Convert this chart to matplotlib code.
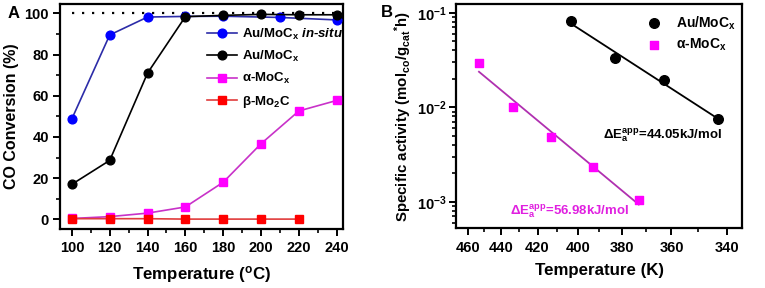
import numpy as np
import matplotlib
matplotlib.use('Agg')
import matplotlib.pyplot as plt
from matplotlib.ticker import FixedLocator, FuncFormatter, NullFormatter, MultipleLocator

plt.rcParams['font.family'] = ['Liberation Sans', 'DejaVu Sans']
plt.rcParams['font.weight'] = 'bold'
plt.rcParams['axes.labelweight'] = 'bold'
plt.rcParams['mathtext.fontset'] = 'custom'
plt.rcParams['mathtext.rm'] = 'Liberation Sans:bold'
plt.rcParams['mathtext.bf'] = 'Liberation Sans:bold'
plt.rcParams['mathtext.it'] = 'Liberation Sans:bold:italic'
plt.rcParams['mathtext.sf'] = 'Liberation Sans:bold'

# ---- panel A data: CO conversion (%) vs temperature (C)
t_insitu = [100, 120, 140, 160, 180, 210, 240]
conv_insitu = [48.8, 89.5, 98.2, 98.5, 98.6, 98.0, 96.8]
t_au = [100, 120, 140, 160, 180, 200, 220, 240]
conv_au = [17.0, 28.6, 71.0, 98.4, 99.0, 99.5, 99.3, 99.3]
t_alpha = [100, 120, 140, 160, 180, 200, 220, 240]
conv_alpha = [0.4, 1.3, 3.0, 6.0, 18.0, 36.7, 52.6, 57.7]
t_beta = [100, 120, 140, 160, 180, 200, 220]
conv_beta = [0.3, 0.3, 0.3, 0.1, 0.1, 0.1, 0.1]

# ---- panel B data: Arrhenius plot
T_au = [403, 383, 363, 343]
act_au = [0.082, 0.0329, 0.0194, 0.0075]
T_alpha = [453, 433, 413, 393, 373]
act_alpha = [0.0291, 0.0100, 0.0049, 0.00232, 0.00104]
ea_au = '44.05'
ea_alpha = '56.98'

fig = plt.figure(figsize=(7.65, 2.88), dpi=100)

# ================= Panel A
ax = fig.add_axes([0.0784, 0.2049, 0.3699, 0.781])
ax.hlines(100, 100, 243.3, colors='black', linestyles=(0, (1, 3.5)), linewidth=1.6, zorder=1)
ax.plot(t_insitu, conv_insitu, '-o', color='#2c2ca8', mfc='#0000ff', mec='#0000ff',
        ms=6.3, lw=1.2, label=r'Au/MoC$_\mathregular{x}$ $\mathit{in}$-$\mathit{situ}$', zorder=3)
ax.plot(t_au, conv_au, '-o', color='black', ms=6.3, lw=1.2,
        label=r'Au/MoC$_\mathregular{x}$', zorder=3)
ax.plot(t_alpha, conv_alpha, '-s', color='#c832c8', mfc='#ff00ff', mec='#ff00ff',
        ms=5.2, lw=1.2, label=r'α-MoC$_\mathregular{x}$', zorder=3)
ax.plot(t_beta, conv_beta, '-s', color='#e03c3c', mfc='#ff0000', mec='#ff0000',
        ms=5.2, lw=1.2, label=r'β-Mo$_\mathregular{2}$C', zorder=3)

ax.set_xlim(93.7, 243.3)
ax.set_ylim(-4.7, 104.5)
ax.xaxis.set_major_locator(MultipleLocator(20))
ax.xaxis.set_minor_locator(MultipleLocator(10))
ax.yaxis.set_major_locator(MultipleLocator(20))
ax.yaxis.set_minor_locator(MultipleLocator(10))
ax.set_xlabel(r'Temperature ($^\mathregular{o}$C)', fontsize=12.2, labelpad=6)
ax.set_ylabel('CO Conversion (%)', fontsize=11.5, labelpad=4)
ax.legend(loc='upper right', bbox_to_anchor=(1.0, 0.9), frameon=False,
          borderaxespad=0, borderpad=0, handlelength=2.3, handletextpad=0.35,
          labelspacing=0.55, fontsize=9.5)
ax.text(-0.185, 0.96, 'A', transform=ax.transAxes, fontsize=12, fontweight='bold', va='center')

# ================= Panel B  (x axis linear in 1/T, temperatures decreasing to the right)
bx = fig.add_axes([0.5967, 0.208, 0.3733, 0.778])
bx.set_xscale('function', functions=(lambda t: -1000.0 / t, lambda u: -1000.0 / u))
bx.set_yscale('log')

bx.scatter(T_au, act_au, marker='o', s=48, color='black', label=r'Au/MoC$_\mathregular{x}$', zorder=3)
bx.scatter(T_alpha, act_alpha, marker='s', s=38, color='#ff00ff', label=r'α-MoC$_\mathregular{x}$', zorder=3)

# linear Arrhenius fits: log10(activity) vs 1/T
for T, act, col in [(T_au, act_au, 'black'), (T_alpha, act_alpha, '#b030b0')]:
    inv = 1000.0 / np.array(T, dtype=float)
    k, b = np.polyfit(inv, np.log10(act), 1)
    ends = np.array([max(T), min(T)], dtype=float)
    bx.plot(ends, 10 ** (k * 1000.0 / ends + b), color=col, lw=1.3, zorder=2)

bx.set_xlim(467.1, 334.8)
bx.set_ylim(5.27e-4, 0.1236)
bx.xaxis.set_major_locator(FixedLocator([460, 440, 420, 400, 380, 360, 340]))
bx.xaxis.set_minor_locator(FixedLocator([450, 430, 410, 390, 370, 350]))
bx.xaxis.set_major_formatter(FuncFormatter(lambda v, p: f'{v:.0f}'))
bx.xaxis.set_minor_formatter(NullFormatter())
bx.set_xlabel('Temperature (K)', fontsize=12.2, labelpad=6)
bx.set_ylabel(r'Specific activity (mol$_\mathregular{co}$/g$_\mathregular{cat}$$^\mathregular{*}$h)',
              fontsize=10.8, labelpad=2)
bx.text(0.513, 0.415, r'ΔE$_\mathregular{a}^\mathregular{app}$=' + ea_au + 'kJ/mol',
        transform=bx.transAxes, fontsize=9.5, color='black', va='center')
bx.text(0.189, 0.076, r'ΔE$_\mathregular{a}^\mathregular{app}$=' + ea_alpha + 'kJ/mol',
        transform=bx.transAxes, fontsize=9.5, color='#e020e0', va='center')
bx.legend(loc='upper right', bbox_to_anchor=(0.98, 0.955), frameon=False,
          borderaxespad=0, borderpad=0, handletextpad=0.6, labelspacing=0.35,
          fontsize=10, scatterpoints=1)
bx.text(-0.265, 0.96, 'B', transform=bx.transAxes, fontsize=12, fontweight='bold', va='center')

for a in (ax, bx):
    for s in a.spines.values():
        s.set_linewidth(1.6)
    a.tick_params(which='major', direction='out', length=5, width=1.4, labelsize=10.5,
                  top=False, right=False, pad=4)
    a.tick_params(which='minor', direction='out', length=3, width=1.2, top=False, right=False)
bx.tick_params(axis='y', which='major', pad=2)
ax.tick_params(axis='y', which='major', pad=3)

fig.savefig('out.png', dpi=100)
